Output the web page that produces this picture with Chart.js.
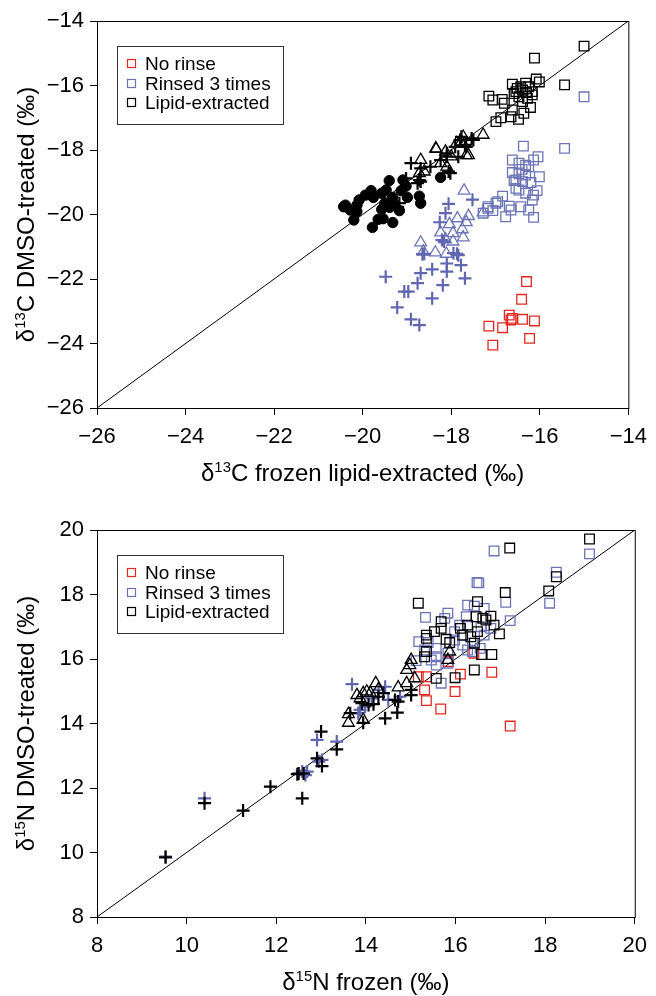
<!DOCTYPE html>
<html>
<head>
<meta charset="utf-8">
<script src="https://cdn.jsdelivr.net/npm/chart.js@4.4.1/dist/chart.umd.min.js"></script>
<style>
  html, body { margin: 0; padding: 0; background: #fff; }
  .panel { position: relative; width: 656px; height: 498px; }
</style>
</head>
<body>
<div class="panel"><canvas id="carbon" width="656" height="498"></canvas></div>
<div class="panel"><canvas id="nitrogen" width="656" height="498"></canvas></div>
<script>
// ---- axis ranges / ticks ----
const carbonRange = [-26, -14];
const nitrogenRange = [8, 20];
const tickStep = 2;
const legendLabels = ['No rinse', 'Rinsed 3 times', 'Lipid-extracted'];

// ---- d13C panel ----
const cNoRinseX = [-16.30, -16.41, -16.69, -16.62, -16.39, -16.12, -17.15, -16.84, -16.23, -17.06, -16.65];
const cNoRinseY = [-22.08, -22.63, -23.12, -23.22, -23.25, -23.30, -23.46, -23.51, -23.84, -24.05, -23.27];

const cRinsedX = [-15.00, -15.44, -16.37, -16.04, -16.14, -16.62, -16.47, -16.32, -16.25, -16.62, -16.47, -16.32,
  -16.01, -16.54, -16.39, -16.20, -16.54, -16.47, -16.06, -16.32, -16.17, -16.14, -16.84, -16.95, -16.69, -17.17,
  -17.06, -16.43, -16.25, -16.77, -16.14, -17.28, -16.99, -16.65, -17.17, -16.58, -16.40];
const cRinsedY = [-16.35, -17.95, -17.88, -18.21, -18.31, -18.31, -18.41, -18.47, -18.52, -18.70, -18.74, -18.78,
  -18.83, -18.93, -18.98, -19.01, -19.19, -19.24, -19.26, -19.34, -19.55, -19.40, -19.43, -19.60, -19.74, -19.76,
  -19.88, -19.76, -19.86, -20.07, -20.09, -19.96, -19.65, -19.86, -19.81, -18.95, -18.60];

const cLipidX = [-15.00, -16.12, -15.44, -16.08, -16.01, -16.62, -16.32, -16.51, -16.39, -16.25, -16.17, -17.15,
  -17.06, -16.85, -16.80, -16.47, -16.39, -16.21, -16.62, -16.36, -16.65, -16.48, -16.88, -16.99, -16.17, -16.28,
  -16.54, -16.43, -16.58, -16.30];
const cLipidY = [-14.78, -15.15, -15.98, -15.80, -15.89, -15.96, -15.93, -16.09, -16.14, -16.04, -16.19, -16.33,
  -16.45, -16.43, -16.55, -16.35, -16.50, -16.68, -16.76, -16.86, -16.97, -17.05, -17.00, -17.12, -16.29, -16.40,
  -16.19, -16.04, -16.25, -16.22];

const cBlueTriX = [-17.71, -17.86, -17.61, -17.66, -18.04, -18.24, -17.96, -17.75, -17.73, -18.13, -17.96, -18.69,
  -18.36, -18.11, -18.63, -17.28];
const cBlueTriY = [-19.26, -20.12, -20.05, -20.24, -20.30, -20.56, -20.58, -20.46, -20.71, -20.77, -20.84, -20.87,
  -21.18, -21.22, -21.15, -19.94];

const cBlueCrossX = [-18.06, -18.13, -18.26, -18.21, -18.61, -18.69, -18.43, -18.10, -17.95, -17.84, -17.78, -17.69,
  -19.48, -18.76, -19.06, -18.97, -18.19, -18.43, -19.22, -18.91, -18.72, -18.10, -17.52, -18.16, -17.87, -18.65];
const cBlueCrossY = [-19.67, -19.96, -20.24, -20.79, -21.22, -21.82, -21.70, -21.77, -21.20, -21.26, -21.57, -21.98,
  -21.93, -22.13, -22.39, -22.39, -22.19, -22.60, -22.88, -23.25, -23.43, -21.52, -19.54, -20.84, -21.22, -21.23];

const cBlackTriX = [-18.34, -18.69, -18.13, -17.66, -17.77, -18.72, -18.10, -18.24, -17.28, -18.35, -17.61, -17.73,
  -18.61, -17.88, -18.00];
const cBlackTriY = [-17.97, -18.31, -18.05, -18.16, -17.74, -18.72, -18.52, -18.41, -17.53, -17.95, -18.16, -17.59,
  -18.67, -17.79, -18.20];

const cBlackCrossX = [-18.91, -18.69, -18.72, -18.47, -18.24, -18.06, -18.10, -17.84, -17.77, -17.66, -17.91, -19.17,
  -19.02, -18.76, -18.10, -18.02, -17.80, -17.54, -17.69, -18.69, -17.50, -19.21];
const cBlackCrossY = [-18.41, -18.57, -18.93, -18.52, -18.31, -18.67, -18.10, -18.21, -17.59, -17.90, -17.90, -19.65,
  -18.88, -19.03, -18.21, -18.72, -17.69, -17.64, -17.84, -18.98, -17.69, -19.76];

const cCircleX = [-19.40, -19.09, -19.02, -19.13, -19.81, -19.57, -19.76, -20.08, -19.32, -18.99, -18.72, -20.39,
  -20.13, -19.50, -19.35, -18.69, -20.28, -20.13, -19.57, -19.39, -19.17, -20.20, -19.65, -19.54, -19.32, -19.78,
  -18.24, -20.43, -19.94, -19.47, -19.28];
const cCircleY = [-18.95, -18.93, -19.12, -19.26, -19.26, -19.34, -19.47, -19.55, -19.47, -19.47, -19.43, -19.71,
  -19.71, -19.65, -19.60, -19.65, -19.86, -19.91, -19.84, -19.78, -19.88, -20.17, -20.15, -20.13, -20.25, -20.40,
  -18.85, -19.76, -19.40, -19.24, -19.71];

// ---- d15N panel ----
const nNoRinseX = [15.17, 15.35, 15.31, 15.35, 15.67, 15.99, 16.11, 15.84, 16.41, 16.81, 17.22];
const nNoRinseY = [15.45, 15.45, 15.04, 14.71, 14.45, 14.99, 15.53, 15.92, 16.18, 15.59, 13.92];

const nRinsedX = [16.86, 18.99, 18.25, 18.10, 16.48, 17.12, 17.22, 15.33, 15.83, 15.76, 16.42, 16.24, 15.98, 16.09,
  16.64, 16.79, 16.64, 15.18, 15.39, 15.57, 15.57, 15.57, 15.68, 15.83, 15.98, 16.16, 16.38, 16.55, 16.27, 16.57,
  16.27, 15.31, 15.12, 15.46, 15.83, 16.38, 16.52];
const nRinsedY = [19.35, 19.26, 18.69, 17.73, 18.37, 17.76, 17.19, 17.29, 17.42, 17.26, 17.64, 17.31, 16.85, 17.05,
  17.57, 16.95, 16.74, 16.54, 16.51, 16.33, 16.07, 15.81, 15.25, 15.87, 16.59, 16.43, 16.49, 16.33, 16.28, 17.00,
  17.67, 16.28, 15.95, 15.97, 16.18, 16.23, 18.36];

const nLipidX = [15.17, 15.68, 15.68, 15.53, 15.35, 15.35, 15.35, 15.31, 15.79, 15.87, 15.57, 15.99, 16.42, 16.58,
  16.81, 16.11, 16.16, 16.27, 16.46, 16.61, 16.68, 16.79, 16.86, 16.98, 16.49, 16.34, 16.49, 17.11, 18.08, 16.42,
  17.21, 18.99, 18.25];
const nLipidY = [17.73, 17.16, 16.95, 16.85, 16.74, 16.64, 16.23, 16.07, 16.61, 16.51, 15.40, 15.42, 15.66, 16.14,
  16.14, 16.95, 16.74, 17.05, 17.31, 17.26, 17.21, 17.33, 17.05, 16.78, 16.85, 16.69, 17.78, 18.06, 18.11, 16.49,
  19.44, 19.72, 18.55];

const nBlueCrossX = [10.40, 12.58, 12.65, 12.95, 13.69, 12.91, 13.35, 13.02, 13.87, 14.13, 14.43, 14.28, 14.50, 14.76,
  13.83, 13.98, 12.69, 9.53];
const nBlueCrossY = [11.68, 12.51, 12.40, 12.82, 15.22, 13.49, 13.44, 12.87, 14.42, 14.78, 15.14, 15.04, 14.73, 14.83,
  14.32, 14.52, 12.51, 9.87];

const nBlackCrossX = [9.53, 10.40, 11.26, 11.87, 12.47, 12.61, 12.58, 13.02, 13.00, 12.91, 13.35, 12.50, 13.94, 14.43,
  14.70, 14.65, 15.01, 14.17, 13.91, 14.39, 14.28, 14.06, 14.72, 13.65, 15.01];
const nBlackCrossY = [9.85, 11.53, 11.30, 12.04, 12.43, 12.45, 11.68, 12.68, 13.75, 12.92, 13.20, 12.45, 14.02, 14.16,
  14.34, 14.73, 14.88, 14.60, 14.63, 14.94, 14.83, 14.57, 14.68, 14.32, 15.04];

const nBlackTriX = [13.61, 13.61, 13.94, 13.87, 14.02, 14.22, 14.72, 14.91, 14.91, 14.98, 15.01, 15.09, 15.87, 15.83,
  14.28, 13.80, 13.94, 14.10];
const nBlackTriY = [14.29, 14.02, 14.11, 14.78, 14.99, 15.25, 15.12, 15.25, 15.66, 15.81, 15.97, 15.40, 16.23, 15.97,
  15.06, 14.88, 14.94, 14.95];

// ---- styling ----
const RED = 'rgb(228,40,32)';
const BLUE = 'rgb(108,116,184)';
const BLUE_CROSS = 'rgb(96,103,176)';
const BLACK = '#000';
const FONT = '"Liberation Sans", Arial, Helvetica, sans-serif';
const legendColors = [RED, BLUE, BLACK];

Chart.defaults.font.family = FONT;
Chart.defaults.color = '#000';

function pts(xs, ys) {
  return xs.map((x, i) => ({ x: x, y: ys[i] }));
}

function marks(xs, ys, shape, color) {
  const ds = {
    data: pts(xs, ys),
    showLine: false,
    pointStyle: shape,
    pointBorderColor: color,
    pointBackgroundColor: 'rgba(0,0,0,0)',
    pointRadius: 6.8,
    pointBorderWidth: 1.3
  };
  if (shape === 'triangle') ds.pointRadius = 6.8;
  if (shape === 'cross') { ds.pointRadius = 6.5; ds.pointBorderWidth = 2.2; }
  if (shape === 'circle') { ds.pointRadius = 5.2; ds.pointBackgroundColor = color; ds.pointBorderWidth = 1; }
  return ds;
}

function oneToOne(range) {
  return {
    data: [{ x: range[0], y: range[0] }, { x: range[1], y: range[1] }],
    showLine: true,
    borderColor: BLACK,
    borderWidth: 1,
    pointRadius: 0
  };
}

// draw text with a superscript part
function richText(ctx, segs, cx, cy, size, vertical) {
  ctx.save();
  ctx.translate(cx, cy);
  if (vertical) ctx.rotate(-Math.PI / 2);
  let total = 0;
  segs.forEach(s => {
    ctx.font = (s.sup ? size * 0.62 : size) + 'px ' + FONT;
    s.w = ctx.measureText(s.t).width;
    total += s.w;
  });
  let x = -total / 2;
  ctx.fillStyle = '#000';
  ctx.textBaseline = 'alphabetic';
  ctx.textAlign = 'left';
  segs.forEach(s => {
    ctx.font = (s.sup ? size * 0.62 : size) + 'px ' + FONT;
    const base = size * 0.36;
    ctx.fillText(s.t, x, s.sup ? base - size * 0.38 : base);
    x += s.w;
  });
  ctx.restore();
}

const decorPlugin = {
  id: 'decor',
  afterDraw(chart, args, opts) {
    const ctx = chart.ctx;
    const a = chart.chartArea;
    // frame
    ctx.save();
    ctx.strokeStyle = '#000';
    ctx.lineWidth = 1;
    ctx.strokeRect(a.left + 0.5, a.top + 0.5, a.right - a.left, a.bottom - a.top);
    // legend box
    const lx = a.left + 20, ly = a.top + 25, lw = 166, lh = 78;
    ctx.lineWidth = 1;
    ctx.strokeStyle = '#333';
    ctx.strokeRect(lx + 0.5, ly + 0.5, lw, lh);
    ctx.font = '19px ' + FONT;
    ctx.textBaseline = 'middle';
    ctx.fillStyle = '#000';
    const rows = [18, 38, 57];
    legendLabels.forEach((t, i) => {
      const cy = ly + rows[i];
      ctx.strokeStyle = legendColors[i];
      ctx.lineWidth = 1.2;
      ctx.strokeRect(lx + 10.5, cy - 4.5, 8, 8);
      ctx.fillText(t, lx + 28, cy + 1);
    });
    ctx.restore();
    // axis titles
    richText(ctx, opts.xTitle, (a.left + a.right) / 2, a.bottom + 64, 24, false);
    richText(ctx, opts.yTitle, 25, (a.top + a.bottom) / 2, 24, true);
  }
};

function axis(range, fitFn) {
  return {
    type: 'linear',
    min: range[0],
    max: range[1],
    afterFit: fitFn,
    border: { display: false },
    grid: { drawOnChartArea: false, drawTicks: true, tickLength: 7, color: '#000', lineWidth: 1 },
    ticks: {
      stepSize: tickStep,
      font: { size: 22 },
      color: '#000',
      callback: v => String(v).replace('-', '\u2212')
    }
  };
}

function makeChart(id, range, datasets, padTop, xHeight, xTitle, yTitle) {
  const xAxis = axis(range, s => { s.height = xHeight; });
  xAxis.ticks.padding = 9;
  const yAxis = axis(range, s => { s.width = 97; });
  yAxis.ticks.padding = 6;
  new Chart(document.getElementById(id), {
    type: 'scatter',
    data: { datasets: datasets },
    options: {
      responsive: false,
      animation: false,
      devicePixelRatio: 1,
      layout: { padding: { top: padTop, right: 18, left: 0, bottom: 0 } },
      scales: { x: xAxis, y: yAxis },
      plugins: {
        legend: { display: false },
        tooltip: { enabled: false },
        decor: { xTitle: xTitle, yTitle: yTitle }
      }
    },
    plugins: [decorPlugin]
  });
}

// first dataset is drawn on top
makeChart('carbon', carbonRange, [
  marks(cBlackCrossX, cBlackCrossY, 'cross', BLACK),
  marks(cBlackTriX, cBlackTriY, 'triangle', BLACK),
  marks(cCircleX, cCircleY, 'circle', BLACK),
  marks(cLipidX, cLipidY, 'rect', BLACK),
  marks(cBlueCrossX, cBlueCrossY, 'cross', BLUE_CROSS),
  marks(cBlueTriX, cBlueTriY, 'triangle', BLUE),
  marks(cRinsedX, cRinsedY, 'rect', BLUE),
  marks(cNoRinseX, cNoRinseY, 'rect', RED),
  oneToOne(carbonRange)
], 21, 90,
  [{ t: '\u03b4' }, { t: '13', sup: true }, { t: 'C frozen lipid-extracted (\u2030)' }],
  [{ t: '\u03b4' }, { t: '13', sup: true }, { t: 'C DMSO-treated (\u2030)' }]);

makeChart('nitrogen', nitrogenRange, [
  marks(nBlackCrossX, nBlackCrossY, 'cross', BLACK),
  marks(nBlackTriX, nBlackTriY, 'triangle', BLACK),
  marks(nLipidX, nLipidY, 'rect', BLACK),
  marks(nBlueCrossX, nBlueCrossY, 'cross', BLUE_CROSS),
  marks(nRinsedX, nRinsedY, 'rect', BLUE),
  marks(nNoRinseX, nNoRinseY, 'rect', RED),
  oneToOne(nitrogenRange)
], 32, 79,
  [{ t: '\u03b4' }, { t: '15', sup: true }, { t: 'N frozen (\u2030)' }],
  [{ t: '\u03b4' }, { t: '15', sup: true }, { t: 'N DMSO-treated (\u2030)' }]);
</script>
</body>
</html>
